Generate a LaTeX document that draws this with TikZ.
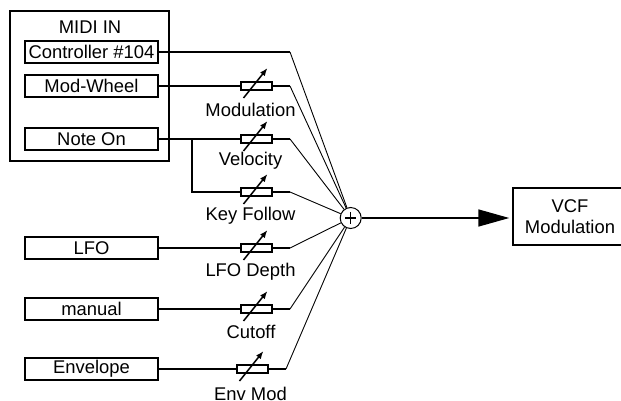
\documentclass[tikz,border=0pt]{standalone}
\usepackage{fontspec}
\setmainfont{Liberation Sans}
\usetikzlibrary{arrows.meta,calc}
\tikzset{
 px/.style={x=1pt,y=-1pt},
 box/.style={draw,line width=1.5pt,minimum width=133pt,minimum height=22pt,inner sep=0pt,font=\fontsize{18.4}{20}\selectfont},
 lab/.style={inner sep=0pt,font=\fontsize{18.4}{20}\selectfont},
 potbox/.style={draw,fill=white,line width=1.5pt,minimum width=31pt,minimum height=8pt,inner sep=0pt},
 wire/.style={line width=1.5pt},
 thin wire/.style={line width=0.9pt},
 potarrow/.style={line width=1.5pt,-{Latex[length=8pt,width=6pt]}},
}
\newcommand{\potarrowat}[1]{\draw[potarrow] ($(#1)+(-13,12)$) -- ($(#1)+(11,-18)$);}
\begin{document}
\begin{tikzpicture}[px]
\useasboundingbox (0,0) rectangle (621,401);
\draw[line width=1.5pt] (10,11) rectangle (169,161);
\node[lab] (midi) at (90,27) {MIDI IN};
\node[box] (ctrl) at (91.5,52) {Controller \#104};
\node[box] (wheel) at (91.5,86) {Mod-Wheel};
\node[box] (note) at (91.5,139) {Note On};
\node[box] (lfo) at (91.5,248) {LFO};
\node[box] (manual) at (91.5,309) {manual};
\node[box] (env) at (91.5,369) {Envelope};
\node[draw,fill=white,circle,line width=1pt,minimum size=21pt,inner sep=0pt] (sum) at (350.7,218) {};
\coordinate (b1) at (290,52);
\coordinate (b2) at (290,86);
\coordinate (b3) at (290,139);
\coordinate (b4) at (290,192);
\coordinate (b5) at (290,248);
\coordinate (b6) at (290,309);
\coordinate (b7) at (286,369);
\coordinate (j) at (192,139);
\node[potbox] (p2) at (256.5,86) {};
\node[potbox] (p3) at (256.5,139) {};
\node[potbox] (p4) at (256.5,192) {};
\node[potbox] (p5) at (256.5,248) {};
\node[potbox] (p6) at (256.5,309) {};
\node[potbox] (p7) at (252.5,369) {};
\draw[wire] (ctrl) -- (b1);
\draw[wire] (wheel) -- (p2) -- (b2);
\draw[wire] (note) -- (p3) -- (b3);
\draw[wire] (j) |- (p4) -- (b4);
\draw[wire] (lfo) -- (p5) -- (b5);
\draw[wire] (manual) -- (p6) -- (b6);
\draw[wire] (env) -- (p7) -- (b7);
\foreach \b in {b1,b2,b3,b4,b5,b6,b7} \draw[thin wire] (\b) -- (sum);
\foreach \p in {p2,p3,p4,p5,p6,p7} {\node[potbox] at (\p) {}; \potarrowat{\p}}
\node[lab] (l2) at (250.5,110) {Modulation};
\node[lab] (l3) at (250.5,161) {Velocity};
\node[lab] (l4) at (250.5,215.5) {Key Follow};
\node[lab] (l5) at (250.5,272) {LFO Depth};
\node[lab] (l6) at (251,332) {Cutoff};
\node[lab] (l7) at (250.5,393.5) {Env Mod};
\draw[line width=1.3pt] (345,218) -- (356.4,218) (350.7,212.3) -- (350.7,223.7);
\node[align=center,inner sep=0pt,minimum width=114pt,minimum height=57pt,font=\fontsize{18.4}{21}\selectfont] (vcf) at (570,216.5) {VCF\\Modulation};
\draw[line width=1.5pt] (623,188) -- (513,188) -- (513,245) -- (623,245);
\draw[line width=1.5pt,-{Triangle[length=31pt,width=17pt]}] (sum) -- ($(vcf.west)+(-3.5,1.5)$);
\end{tikzpicture}
\end{document}
